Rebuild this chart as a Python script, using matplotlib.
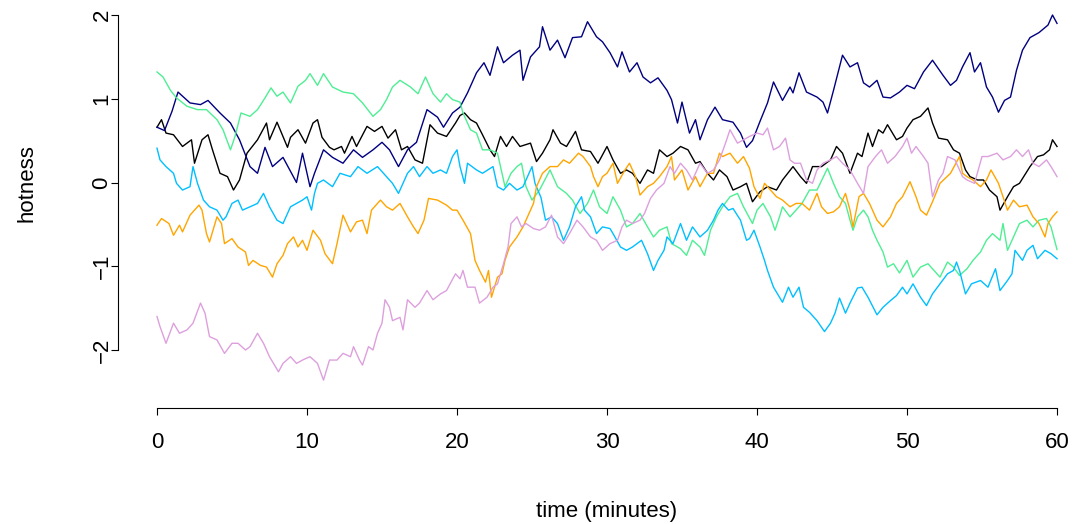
import matplotlib

matplotlib.use("Agg")
import matplotlib.pyplot as plt

# values: (time in minutes, hotness)
navy_pts = [
    (0, 0.66), (0.5, 0.62), (1.0, 0.85), (1.4, 1.08), (2.2, 0.95), (2.9, 0.93),
    (3.4, 0.98), (4.2, 0.83), (4.9, 0.71), (5.5, 0.51), (6.2, 0.19), (6.7, 0.11),
    (7.2, 0.42), (7.7, 0.19), (8.4, 0.30), (9.3, 0.0), (9.7, 0.35), (10.2, -0.05),
    (10.5, 0.11), (11.1, 0.39), (11.7, 0.30), (12.4, 0.23), (13.1, 0.39),
    (13.7, 0.30), (14.4, 0.39), (15.0, 0.48), (15.5, 0.39), (16.1, 0.19),
    (16.7, 0.39), (17.3, 0.48), (18.0, 0.87), (18.7, 0.78), (19.1, 0.66),
    (19.7, 0.83), (20.2, 0.90), (20.7, 1.07), (21.3, 1.31), (21.8, 1.43),
    (22.2, 1.28), (22.7, 1.62), (23.1, 1.43), (23.7, 1.52), (24.2, 1.58),
    (24.4, 1.22), (24.9, 1.50), (25.5, 1.62), (25.7, 1.86), (26.2, 1.58),
    (26.7, 1.70), (27.2, 1.49), (27.7, 1.73), (28.3, 1.74), (28.7, 1.92),
    (29.3, 1.74), (29.7, 1.68), (30.2, 1.55), (30.7, 1.38), (31.0, 1.56),
    (31.5, 1.32), (32.0, 1.43), (32.4, 1.26), (32.9, 1.19), (33.4, 1.25),
    (34.0, 1.10), (34.3, 0.99), (34.7, 0.71), (35.0, 0.96), (35.5, 0.59),
    (35.9, 0.75), (36.2, 0.51), (36.7, 0.75), (37.2, 0.90), (37.7, 0.75),
    (38.4, 0.72), (38.9, 0.59), (39.3, 0.42), (39.7, 0.50), (40.2, 0.73),
    (40.7, 0.95), (41.1, 1.20), (41.7, 0.98), (42.2, 1.14), (42.4, 1.07),
    (42.8, 1.31), (43.3, 1.08), (44.0, 1.02), (44.4, 0.96), (44.7, 0.83),
    (45.1, 1.10), (45.7, 1.52), (46.2, 1.38), (46.7, 1.43), (47.1, 1.19),
    (47.5, 1.14), (48.0, 1.22), (48.4, 1.02), (48.9, 1.01), (49.5, 1.08),
    (50.0, 1.16), (50.5, 1.12), (51.1, 1.32), (51.7, 1.46), (52.4, 1.28),
    (52.9, 1.16), (53.3, 1.22), (53.7, 1.38), (54.2, 1.55), (54.5, 1.32),
    (54.9, 1.43), (55.3, 1.14), (55.7, 1.02), (56.1, 0.84), (56.5, 0.98),
    (56.9, 1.02), (57.3, 1.34), (57.7, 1.58), (58.2, 1.73), (58.8, 1.79),
    (59.4, 1.88), (59.7, 2.0), (60.0, 1.90),
]

black_pts = [
    (0, 0.66), (0.3, 0.75), (0.6, 0.59), (1.1, 0.57), (1.7, 0.43), (2.3, 0.51),
    (2.5, 0.23), (3.0, 0.51), (3.4, 0.57), (3.7, 0.39), (4.2, 0.11), (4.7, 0.07),
    (5.1, -0.09), (5.5, 0.03), (6.0, 0.35), (6.7, 0.51), (7.3, 0.71), (7.5, 0.51),
    (8.0, 0.72), (8.7, 0.42), (8.9, 0.54), (9.4, 0.63), (9.9, 0.47), (10.4, 0.71),
    (10.7, 0.75), (11.0, 0.54), (11.5, 0.42), (11.8, 0.39), (12.3, 0.43),
    (12.5, 0.35), (13.0, 0.55), (13.3, 0.43), (14.0, 0.67), (14.5, 0.61),
    (15.0, 0.67), (15.4, 0.53), (15.9, 0.63), (16.3, 0.39), (16.7, 0.43),
    (17.2, 0.27), (17.7, 0.23), (18.0, 0.51), (18.2, 0.69), (18.7, 0.59),
    (19.3, 0.55), (19.9, 0.71), (20.2, 0.80), (20.5, 0.83), (20.9, 0.75),
    (21.3, 0.71), (21.7, 0.57), (22.2, 0.39), (22.5, 0.31), (22.9, 0.55),
    (23.3, 0.43), (23.7, 0.55), (24.2, 0.43), (24.9, 0.47), (25.3, 0.25),
    (25.7, 0.35), (26.2, 0.51), (26.4, 0.63), (26.9, 0.47), (27.3, 0.43),
    (27.9, 0.61), (28.3, 0.39), (28.9, 0.37), (29.4, 0.23), (30.0, 0.43),
    (30.4, 0.27), (30.9, 0.11), (31.3, 0.15), (31.7, 0.11), (32.2, -0.01),
    (32.7, 0.15), (33.1, 0.11), (33.5, 0.39), (34.0, 0.31), (34.4, 0.35),
    (34.9, 0.43), (35.4, 0.39), (35.9, 0.23), (36.2, 0.25), (36.7, 0.11),
    (37.1, 0.03), (37.5, 0.15), (38.0, 0.07), (38.4, -0.09), (38.9, -0.05),
    (39.3, -0.01), (39.7, -0.23), (40.2, -0.11), (40.7, -0.05), (41.3, -0.09),
    (41.7, 0.03), (42.4, 0.19), (42.9, 0.07), (43.3, -0.01), (43.7, 0.19),
    (44.3, 0.19), (44.9, 0.27), (45.3, 0.43), (45.7, 0.35), (46.2, 0.11),
    (46.7, 0.35), (47.0, 0.31), (47.4, 0.59), (47.7, 0.43), (48.1, 0.63),
    (48.4, 0.59), (48.7, 0.69), (49.3, 0.51), (49.7, 0.55), (50.0, 0.65),
    (50.4, 0.75), (50.9, 0.79), (51.4, 0.89), (51.7, 0.71), (52.1, 0.53),
    (52.7, 0.51), (53.1, 0.39), (53.5, 0.35), (53.9, 0.15), (54.2, 0.07),
    (54.7, 0.03), (55.1, 0.03), (55.5, -0.09), (56.0, -0.17), (56.2, -0.33),
    (56.7, -0.17), (57.1, -0.05), (57.5, -0.01), (58.2, 0.19), (58.7, 0.31),
    (59.1, 0.33), (59.5, 0.39), (59.7, 0.51), (60.0, 0.43),
]

green_pts = [
    (0, 1.32), (0.4, 1.26), (0.9, 1.10), (1.3, 1.01), (2.0, 0.91), (2.7, 0.87),
    (3.3, 0.87), (4.0, 0.75), (4.4, 0.63), (4.9, 0.39), (5.2, 0.55), (5.6, 0.83),
    (6.2, 0.79), (6.7, 0.87), (7.2, 1.01), (7.6, 1.13), (8.0, 1.03), (8.4, 1.08),
    (8.9, 0.95), (9.4, 1.15), (9.9, 1.22), (10.2, 1.30), (10.7, 1.16),
    (11.1, 1.30), (11.7, 1.14), (12.4, 1.08), (13.1, 1.06), (13.7, 0.95),
    (14.4, 0.79), (14.9, 0.87), (15.3, 0.99), (15.7, 1.14), (16.2, 1.22),
    (16.9, 1.14), (17.4, 1.06), (17.9, 1.26), (18.4, 1.06), (18.9, 0.96),
    (19.3, 1.06), (19.7, 0.99), (20.2, 0.96), (20.4, 0.83), (20.9, 0.63),
    (21.3, 0.59), (21.7, 0.39), (22.2, 0.39), (22.7, 0.35), (22.9, 0.19),
    (23.2, -0.05), (23.6, 0.11), (24.0, 0.19), (24.3, 0.23), (24.6, -0.05),
    (25.0, -0.21), (25.5, -0.09), (26.2, 0.15), (26.7, -0.05), (27.3, -0.13),
    (27.7, -0.21), (28.2, -0.37), (28.7, -0.25), (29.1, -0.09), (29.5, -0.29),
    (30.0, -0.37), (30.4, -0.17), (30.9, -0.33), (31.3, -0.53), (31.7, -0.49),
    (32.2, -0.37), (32.7, -0.53), (33.1, -0.65), (33.5, -0.57), (34.0, -0.53),
    (34.3, -0.73), (34.9, -0.79), (35.3, -0.87), (35.7, -0.69), (36.2, -0.77),
    (36.5, -0.87), (36.9, -0.57), (37.3, -0.41), (37.7, -0.29), (38.2, -0.17),
    (38.7, -0.13), (39.1, -0.29), (39.7, -0.49), (40.0, -0.33), (40.4, -0.25),
    (40.9, -0.41), (41.2, -0.57), (41.5, -0.41), (41.7, -0.29), (42.2, -0.41),
    (42.6, -0.33), (43.0, -0.25), (43.5, -0.09), (44.0, -0.09), (44.7, 0.17),
    (45.1, -0.01), (45.5, -0.17), (45.9, -0.25), (46.2, -0.45), (46.4, -0.57),
    (46.7, -0.41), (47.1, -0.33), (47.4, -0.41), (47.7, -0.57), (48.0, -0.69),
    (48.4, -0.83), (48.7, -1.01), (49.1, -0.97), (49.5, -1.08), (50.0, -0.93),
    (50.4, -1.13), (50.9, -1.01), (51.4, -0.97), (51.7, -1.03), (52.2, -1.13),
    (52.7, -0.95), (53.1, -1.01), (53.5, -1.11), (54.0, -1.03), (54.4, -0.93),
    (54.9, -0.83), (55.3, -0.69), (55.7, -0.61), (56.2, -0.69), (56.4, -0.49),
    (56.7, -0.81), (57.1, -0.65), (57.5, -0.49), (58.0, -0.45), (58.4, -0.53),
    (58.8, -0.45), (59.3, -0.43), (59.6, -0.53), (60.0, -0.80),
]

blue_pts = [
    (0, 0.41), (0.2, 0.27), (0.6, 0.19), (1.1, 0.11), (1.3, -0.01), (1.7, -0.09),
    (2.2, -0.05), (2.4, 0.19), (2.7, -0.01), (3.1, -0.21), (3.5, -0.29),
    (4.0, -0.33), (4.4, -0.45), (4.6, -0.41), (5.0, -0.25), (5.4, -0.21),
    (5.7, -0.33), (6.2, -0.29), (6.7, -0.25), (7.1, -0.13), (7.3, -0.21),
    (7.5, -0.29), (8.0, -0.45), (8.4, -0.49), (8.9, -0.29), (9.3, -0.25),
    (9.7, -0.21), (10.0, -0.17), (10.3, -0.33), (10.5, -0.13), (10.7, -0.01),
    (11.1, 0.03), (11.7, -0.05), (12.2, 0.11), (12.9, 0.07), (13.4, 0.19),
    (14.0, 0.11), (14.7, 0.19), (15.3, 0.07), (15.7, -0.01), (16.1, -0.13),
    (16.7, 0.11), (17.1, 0.19), (17.5, 0.07), (18.0, 0.19), (18.4, 0.11),
    (18.9, 0.15), (19.3, 0.11), (19.7, 0.31), (20.0, 0.39), (20.2, 0.19),
    (20.5, -0.01), (20.7, 0.23), (21.3, 0.15), (21.7, 0.11), (22.4, 0.19),
    (22.7, -0.05), (23.1, -0.09), (23.5, -0.01), (24.0, -0.09), (24.4, -0.05),
    (25.0, 0.19), (25.2, -0.01), (25.6, -0.18), (25.9, -0.45), (26.3, -0.41),
    (26.7, -0.49), (27.1, -0.69), (27.5, -0.53), (27.9, -0.29), (28.3, -0.17),
    (28.5, -0.33), (28.9, -0.41), (29.3, -0.61), (29.7, -0.53), (30.2, -0.55),
    (30.4, -0.61), (30.9, -0.77), (31.3, -0.81), (31.7, -0.77), (32.3, -0.69),
    (32.7, -0.85), (33.1, -1.05), (33.4, -0.93), (33.8, -0.81), (34.0, -0.65),
    (34.4, -0.73), (34.9, -0.49), (35.3, -0.69), (35.7, -0.53), (36.2, -0.65),
    (36.7, -0.57), (37.1, -0.45), (37.4, -0.33), (37.7, -0.25), (38.1, -0.33),
    (38.4, -0.31), (38.9, -0.45), (39.3, -0.69), (39.5, -0.67), (39.8, -0.57),
    (40.2, -0.77), (40.5, -0.93), (40.7, -1.05), (41.1, -1.25), (41.5, -1.37),
    (41.7, -1.43), (42.1, -1.25), (42.4, -1.37), (42.8, -1.25), (43.1, -1.49),
    (43.5, -1.55), (44.0, -1.65), (44.5, -1.78), (44.9, -1.68), (45.2, -1.56),
    (45.5, -1.38), (45.9, -1.56), (46.2, -1.44), (46.7, -1.26), (47.0, -1.25),
    (47.4, -1.37), (48.0, -1.58), (48.4, -1.49), (48.9, -1.41), (49.3, -1.35),
    (49.7, -1.25), (50.0, -1.33), (50.4, -1.21), (50.9, -1.37), (51.3, -1.47),
    (51.7, -1.33), (52.2, -1.21), (52.7, -1.09), (53.1, -1.05), (53.3, -0.95),
    (53.5, -1.05), (53.9, -1.33), (54.3, -1.21), (54.9, -1.17), (55.4, -1.25),
    (55.9, -1.03), (56.2, -1.29), (56.7, -1.17), (57.0, -1.09), (57.2, -0.81),
    (57.7, -0.93), (58.0, -0.81), (58.4, -0.75), (58.7, -0.91), (59.2, -0.81),
    (59.6, -0.85), (60.0, -0.91),
]

orange_pts = [
    (0, -0.51), (0.3, -0.43), (0.8, -0.49), (1.1, -0.63), (1.5, -0.51),
    (1.7, -0.59), (2.2, -0.39), (2.8, -0.27), (3.0, -0.33), (3.3, -0.61),
    (3.5, -0.71), (4.0, -0.41), (4.3, -0.49), (4.5, -0.73), (5.0, -0.67),
    (5.4, -0.77), (5.9, -0.83), (6.1, -0.99), (6.4, -0.93), (6.9, -0.99),
    (7.3, -1.01), (7.7, -1.13), (8.0, -0.97), (8.4, -0.87), (8.7, -0.73),
    (9.1, -0.65), (9.4, -0.77), (9.7, -0.69), (10.0, -0.81), (10.4, -0.57),
    (10.9, -0.69), (11.2, -0.85), (11.7, -0.97), (12.0, -0.73), (12.4, -0.39),
    (12.9, -0.59), (13.3, -0.47), (13.7, -0.45), (14.0, -0.61), (14.3, -0.33),
    (14.9, -0.21), (15.3, -0.29), (15.7, -0.33), (16.2, -0.25), (16.7, -0.41),
    (17.1, -0.53), (17.4, -0.61), (17.8, -0.45), (18.1, -0.19), (18.7, -0.21),
    (19.3, -0.27), (19.7, -0.33), (20.0, -0.33), (20.4, -0.45), (20.9, -0.61),
    (21.2, -0.93), (21.5, -1.05), (21.9, -1.19), (22.1, -1.05), (22.3, -1.37),
    (22.7, -1.13), (23.0, -1.09), (23.2, -0.93), (23.5, -0.77), (24.0, -0.65),
    (24.4, -0.53), (24.7, -0.41), (25.1, -0.25), (25.3, -0.05), (25.7, 0.11),
    (26.2, 0.19), (26.7, 0.19), (27.1, 0.27), (27.5, 0.23), (28.1, 0.35),
    (28.4, 0.31), (28.9, 0.19), (29.1, 0.07), (29.4, -0.05), (29.7, 0.07),
    (30.0, 0.11), (30.4, 0.23), (30.7, -0.01), (31.2, 0.15), (31.5, 0.23),
    (31.9, 0.07), (32.2, -0.15), (32.7, -0.05), (33.1, -0.01), (33.5, 0.07),
    (34.0, 0.19), (34.3, 0.31), (34.5, 0.03), (35.0, 0.15), (35.4, -0.09),
    (35.9, 0.07), (36.2, -0.05), (36.7, 0.11), (37.1, 0.11), (37.5, 0.35),
    (37.7, 0.31), (38.2, 0.35), (38.7, 0.23), (39.1, 0.31), (39.5, 0.17),
    (39.8, -0.05), (40.2, -0.19), (40.5, -0.01), (40.9, -0.09), (41.3, -0.17),
    (41.7, -0.21), (42.2, -0.29), (42.6, -0.25), (43.0, -0.25), (43.5, -0.33),
    (44.0, -0.13), (44.3, -0.29), (44.7, -0.37), (45.1, -0.35), (45.5, -0.29),
    (45.9, -0.13), (46.2, -0.33), (46.4, -0.53), (46.8, -0.17), (47.1, -0.13),
    (47.5, -0.25), (48.0, -0.45), (48.4, -0.53), (48.9, -0.41), (49.3, -0.25),
    (49.7, -0.17), (50.2, 0.01), (50.6, -0.17), (50.9, -0.33), (51.3, -0.39),
    (51.7, -0.23), (52.2, -0.01), (52.9, 0.11), (53.5, 0.31), (53.7, 0.11),
    (54.0, 0.07), (54.4, 0.03), (54.9, -0.05), (55.3, 0.03), (55.6, 0.15),
    (56.1, -0.01), (56.4, -0.17), (56.7, -0.33), (57.1, -0.21), (57.5, -0.29),
    (58.0, -0.27), (58.4, -0.41), (58.8, -0.49), (59.2, -0.65), (59.4, -0.49),
    (59.7, -0.41), (60.0, -0.35),
]

plum_pts = [
    (0, -1.60), (0.2, -1.72), (0.6, -1.92), (1.1, -1.68), (1.5, -1.80),
    (2.0, -1.76), (2.4, -1.68), (2.9, -1.44), (3.2, -1.56), (3.5, -1.84),
    (4.0, -1.88), (4.5, -2.04), (5.0, -1.92), (5.4, -1.92), (5.9, -2.0),
    (6.2, -1.96), (6.7, -1.80), (7.1, -1.92), (7.5, -2.08), (8.1, -2.26),
    (8.4, -2.16), (8.9, -2.08), (9.3, -2.16), (9.7, -2.12), (10.2, -2.08),
    (10.7, -2.16), (11.1, -2.36), (11.5, -2.12), (12.0, -2.12), (12.4, -2.04),
    (12.9, -2.08), (13.1, -1.96), (13.5, -2.12), (13.7, -2.18), (14.1, -1.96),
    (14.4, -2.0), (14.7, -1.80), (15.0, -1.68), (15.2, -1.40), (15.5, -1.49),
    (15.7, -1.65), (16.2, -1.61), (16.4, -1.76), (16.7, -1.40), (17.2, -1.49),
    (17.5, -1.44), (18.0, -1.29), (18.4, -1.40), (18.9, -1.33), (19.3, -1.29),
    (19.9, -1.09), (20.2, -1.15), (20.4, -1.05), (20.7, -1.25), (21.2, -1.25),
    (21.5, -1.44), (22.0, -1.37), (22.4, -1.25), (22.7, -1.21), (23.1, -0.97),
    (23.4, -0.77), (23.6, -0.49), (24.0, -0.41), (24.3, -0.53), (24.6, -0.49),
    (25.1, -0.55), (25.5, -0.57), (25.9, -0.53), (26.3, -0.39), (26.7, -0.65),
    (27.1, -0.73), (27.5, -0.61), (28.0, -0.45), (28.4, -0.53), (28.9, -0.65),
    (29.3, -0.69), (29.7, -0.81), (30.2, -0.73), (30.7, -0.69), (31.0, -0.53),
    (31.3, -0.45), (31.7, -0.49), (32.2, -0.45), (32.5, -0.37), (32.9, -0.19),
    (33.3, -0.09), (33.8, -0.01), (34.2, 0.19), (34.5, 0.11), (34.9, 0.23),
    (35.3, 0.15), (35.7, 0.03), (36.2, 0.23), (36.7, 0.11), (37.1, 0.15),
    (37.5, 0.27), (37.9, 0.47), (38.2, 0.63), (38.7, 0.47), (39.1, 0.51),
    (39.5, 0.55), (40.0, 0.59), (40.4, 0.57), (40.7, 0.65), (41.1, 0.39),
    (41.5, 0.43), (41.9, 0.53), (42.2, 0.27), (42.5, 0.23), (42.9, 0.23),
    (43.3, 0.03), (43.7, -0.01), (44.0, 0.15), (44.4, 0.23), (44.9, 0.27),
    (45.3, 0.31), (45.7, 0.23), (46.2, 0.15), (46.7, -0.01), (47.1, -0.13),
    (47.4, 0.19), (47.9, 0.31), (48.3, 0.39), (48.7, 0.23), (49.2, 0.31),
    (49.7, 0.43), (50.0, 0.53), (50.3, 0.35), (50.6, 0.43), (51.1, 0.31),
    (51.4, 0.23), (51.7, -0.17), (52.1, 0.03), (52.4, 0.11), (52.7, 0.31),
    (53.2, 0.27), (53.7, 0.07), (54.0, 0.03), (54.5, -0.01), (55.0, 0.31),
    (55.4, 0.31), (56.0, 0.35), (56.4, 0.27), (56.9, 0.31), (57.3, 0.39),
    (57.7, 0.31), (58.1, 0.39), (58.4, 0.23), (58.8, 0.19), (59.3, 0.27),
    (59.6, 0.19), (60.0, 0.07),
]

series = [
    (black_pts, "black"),
    (navy_pts, "#000080"),
    (green_pts, "#4EEE94"),
    (blue_pts, "#00BFFF"),
    (orange_pts, "#FFA500"),
    (plum_pts, "#DDA0DD"),
]

x_ticks = [0, 10, 20, 30, 40, 50, 60]
y_ticks = [-2, -1, 0, 1, 2]

plt.rcParams["font.family"] = ["Liberation Sans", "DejaVu Sans"]
font_size = 16

W, H = 1073, 524
fig = plt.figure(figsize=(W / 100, H / 100), dpi=100)

# axes box placed in pixels so t=0 -> x 157, t=60 -> x 1057, 2 -> y 15, -2 -> y 350
left_px, right_px, top_px, bottom_px = 118, 1066, 7, 408
ax = fig.add_axes([
    left_px / W,
    1 - bottom_px / H,
    (right_px - left_px) / W,
    (bottom_px - top_px) / H,
])

x_scale = 15.0
y_scale = 83.75
ax.set_xlim((left_px - 157) / x_scale, 60 + (right_px - 1057) / x_scale)
ax.set_ylim((182.5 - bottom_px) / y_scale, (182.5 - top_px) / y_scale)

for pts, color in series:
    t = [p[0] for p in pts]
    v = [p[1] for p in pts]
    ax.plot(t, v, color=color, linewidth=1.0)

for side in ["top", "right"]:
    ax.spines[side].set_visible(False)
ax.spines["left"].set_bounds(-2, 2)
ax.spines["bottom"].set_bounds(0, 60)
ax.spines["left"].set_linewidth(0.8)
ax.spines["bottom"].set_linewidth(0.8)

ax.set_xticks(x_ticks)
ax.set_yticks(y_ticks)
ax.set_yticklabels([str(v).replace("-", "\u2212") for v in y_ticks],
                   rotation=90, va="center")
ax.tick_params(direction="out", length=5, width=0.8, labelsize=font_size,
               colors="black")
ax.tick_params(axis="x", pad=12)
ax.tick_params(axis="y", pad=-1)

ax.set_xlabel("time (minutes)", fontsize=font_size)
ax.set_ylabel("hotness", fontsize=font_size)
ax.xaxis.set_label_coords((607 - left_px) / (right_px - left_px),
                          (bottom_px - 501) / (bottom_px - top_px))
ax.yaxis.set_label_coords((38 - left_px) / (right_px - left_px),
                          (bottom_px - 183) / (bottom_px - top_px))

fig.savefig("out.png", dpi=100)
